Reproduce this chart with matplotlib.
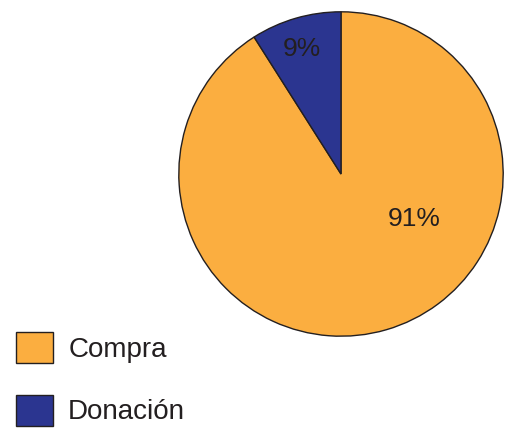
import matplotlib
matplotlib.use("Agg")
import matplotlib.pyplot as plt

categories = ["Compra", "Donación"]
values = [91, 9]
colors = ["#FBAE40", "#2B3590"]
label_pos = [(0.45, -0.28), (-0.24, 0.77)]

plt.rcParams['font.family'] = ['Liberation Sans', 'DejaVu Sans']
W, H = 505, 433
fig = plt.figure(figsize=(W / 100, H / 100), dpi=100)
cx, cy, r = 341, 174, 163
ax = fig.add_axes([(cx - r) / W, 1 - (cy + r) / H, 2 * r / W, 2 * r / H])
wedges, _ = ax.pie(values, colors=colors, startangle=90, counterclock=False,
                   radius=1, wedgeprops=dict(edgecolor="#231F20", linewidth=1.0))
ax.set_xlim(-1.005, 1.005)
ax.set_ylim(-1.005, 1.005)
ax.set_aspect('equal')
ax.axis('off')
for v, (x, y) in zip(values, label_pos):
    ax.text(x, y, f"{v}%", ha='center', va='center', fontsize=19, color="#231F20")

fig.legend(wedges, categories, loc='upper left',
           bbox_to_anchor=(16 / W, 1 - 332 / H), bbox_transform=fig.transFigure,
           frameon=False, fontsize=20, handlelength=1.33, handleheight=1.33,
           handletextpad=0.55, labelspacing=1.15, borderpad=0, borderaxespad=0,
           labelcolor="#231F20")
fig.savefig("out.png", dpi=100)
